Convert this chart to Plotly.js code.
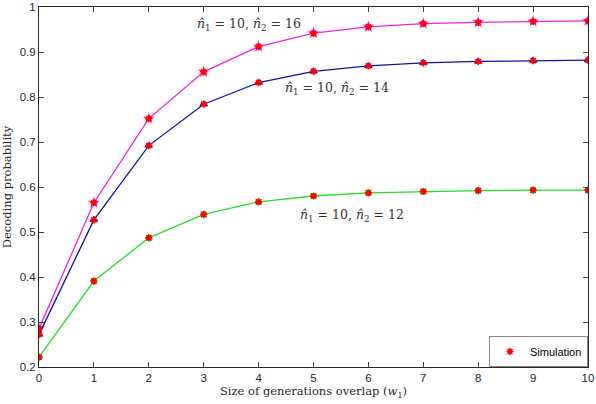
<!DOCTYPE html>
<html><head><meta charset="utf-8">
<script src="https://cdn.plot.ly/plotly-3.0.1.min.js"></script>
<style>body{margin:0;background:#fff}#c{width:596px;height:404px}</style>
</head><body><div id="c"></div>
<script>
const overlap = [0,1,2,3,4,5,6,7,8,9,10];
const prob16 = [0.285,0.565,0.752,0.856,0.912,0.942,0.956,0.963,0.966,0.968,0.969];
const prob14 = [0.272,0.527,0.692,0.784,0.832,0.857,0.869,0.876,0.879,0.881,0.882];
const prob12 = [0.222,0.391,0.487,0.539,0.567,0.580,0.587,0.590,0.592,0.593,0.593];
const labels = ["<i>n̂</i><sub>1</sub> = 10, <i>n̂</i><sub>2</sub> = 16",
                "<i>n̂</i><sub>1</sub> = 10, <i>n̂</i><sub>2</sub> = 14",
                "<i>n̂</i><sub>1</sub> = 10, <i>n̂</i><sub>2</sub> = 12"];
const simName = "Simulation";

const series = [
  {y: prob16, color: '#ee22dd', sym: 'star', size: 9},
  {y: prob14, color: '#1010a8', sym: 'triangle-up', size: 8},
  {y: prob12, color: '#22dd22', sym: 'square', size: 6}
];
const traces = [];
series.forEach(s => {
  traces.push({x: overlap, y: s.y, mode: 'lines+markers', showlegend: false,
    line: {color: s.color, width: 1.3},
    marker: {symbol: s.sym, size: s.size, color: s.color}});
});
series.forEach((s, i) => {
  traces.push({x: overlap, y: s.y, mode: 'markers', name: simName, showlegend: i === 0,
    marker: {symbol: 'asterisk-open', size: 6, color: 'red', line: {color: 'red', width: 1.6}}});
});

const serif = 'DejaVu Serif, Liberation Serif, serif';
const annFont = {family: serif, size: 12.5, color: '#333'};
const layout = {
  width: 596, height: 404,
  margin: {l: 39, r: 8, t: 7, b: 37},
  paper_bgcolor: '#fff', plot_bgcolor: '#fff',
  font: {family: 'Liberation Sans, Arial, sans-serif', size: 11, color: '#262626'},
  xaxis: {range: [0, 10], tickvals: overlap, ticks: 'inside', ticklen: 5, mirror: 'ticks',
    showline: true, linecolor: '#262626', linewidth: 1, showgrid: false, zeroline: false,
    tickfont: {size: 11.5},
    title: {text: 'Size of generations overlap (<i>w</i><sub>1</sub>)', font: {family: serif, size: 11.5}, standoff: 4}},
  yaxis: {range: [0.2, 1], dtick: 0.1, tick0: 0.2, ticks: 'inside', ticklen: 5, mirror: 'ticks',
    showline: true, linecolor: '#262626', linewidth: 1, showgrid: false, zeroline: false,
    tickfont: {size: 11.5},
    title: {text: 'Decoding probability', font: {family: serif, size: 11.5}, standoff: 5}},
  legend: {x: 1, y: 0, xanchor: 'right', yanchor: 'bottom', bordercolor: '#888', borderwidth: 1,
    bgcolor: '#fff', font: {size: 11, color: '#000'}, tracegroupgap: 0, itemwidth: 30},
  annotations: [
    {x: 3.82, y: 0.962, text: labels[0], showarrow: false, xanchor: 'center', yanchor: 'middle', font: annFont},
    {x: 5.43, y: 0.820, text: labels[1], showarrow: false, xanchor: 'center', yanchor: 'middle', font: annFont},
    {x: 5.7, y: 0.537, text: labels[2], showarrow: false, xanchor: 'center', yanchor: 'middle', font: annFont}
  ]
};
Plotly.newPlot('c', traces, layout, {staticPlot: true});
</script></body></html>
